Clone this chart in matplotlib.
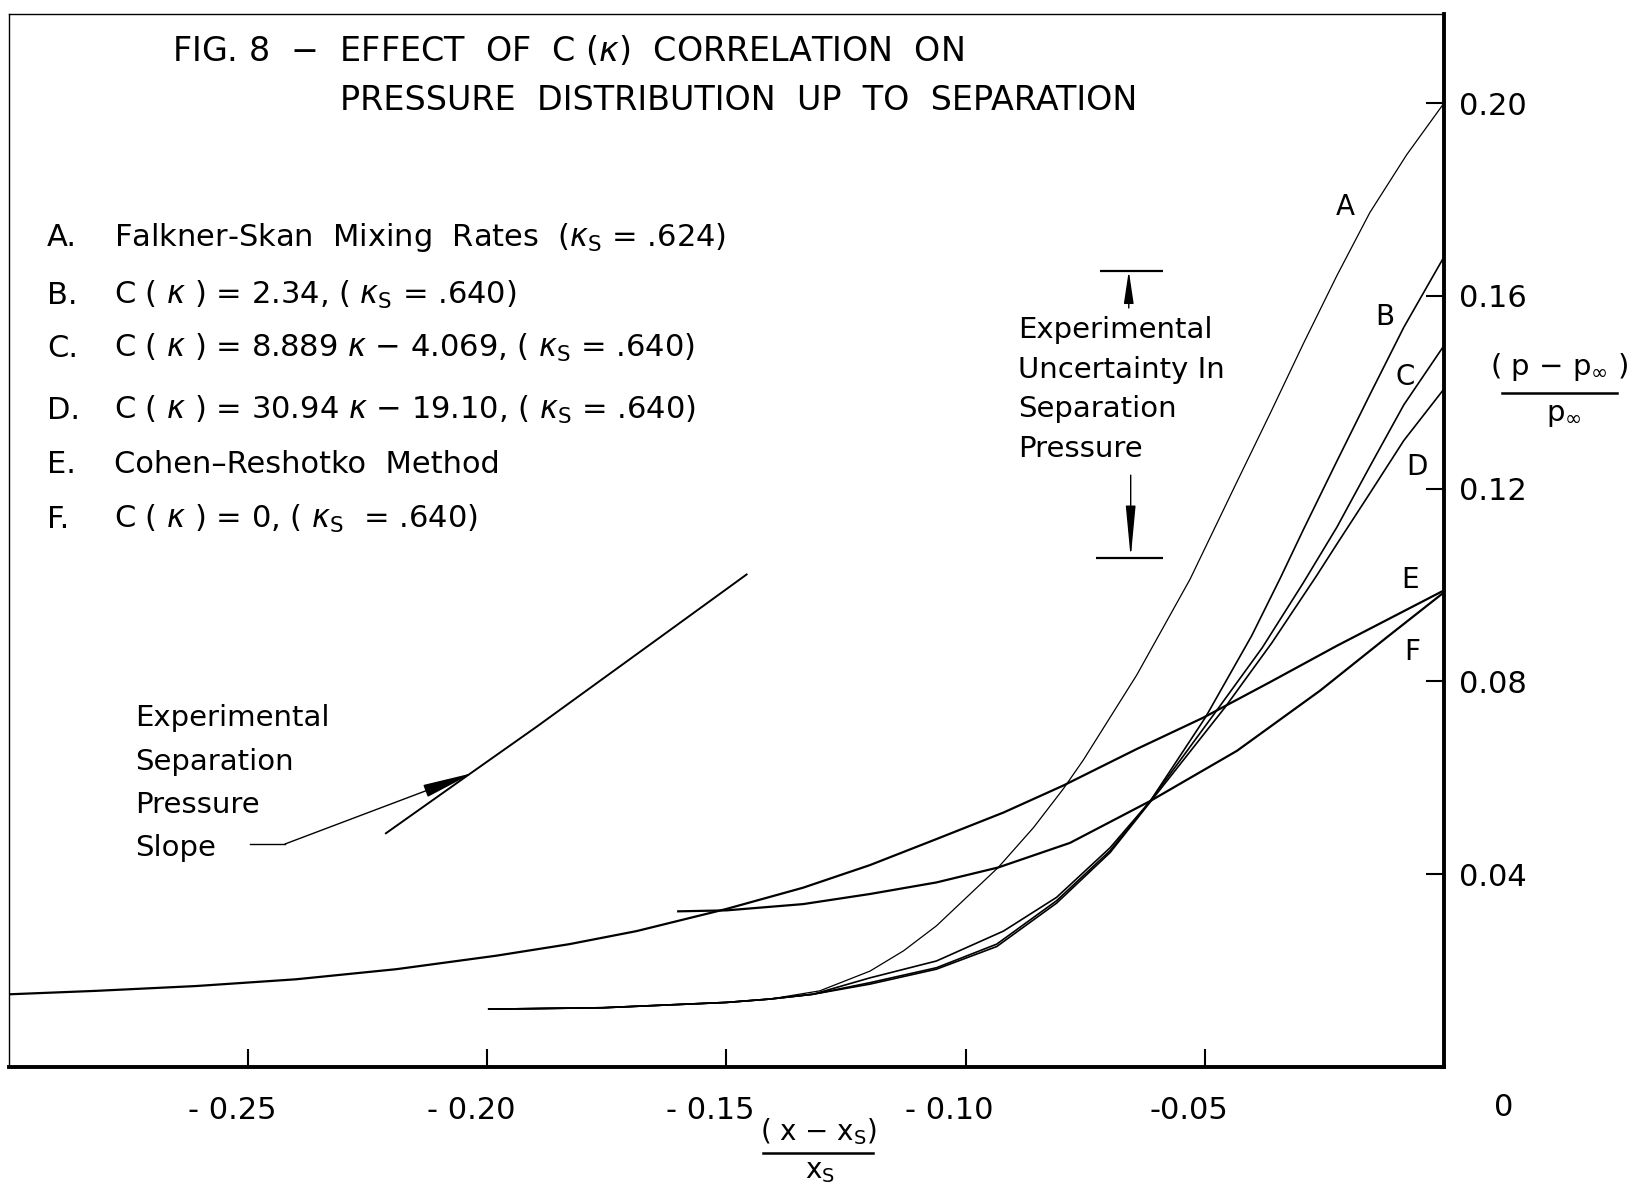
import matplotlib.pyplot as plt
import matplotlib.transforms as mtransforms
from matplotlib.lines import Line2D

# (x - xs)/xs and (p - p_inf)/p_inf
A_x = [-0.1997, -0.1758, -0.150, -0.1409, -0.1305, -0.120, -0.1130, -0.1061, -0.0932, -0.0858,
       -0.0796, -0.0754, -0.0642, -0.0531, -0.0433, -0.0363, -0.0294, -0.0224, -0.0155, -0.0078, 0.0]
A_y = [0.0120, 0.0123, 0.0134, 0.0141, 0.0158, 0.0199, 0.0241, 0.0293, 0.0414, 0.0497,
       0.0577, 0.0637, 0.0814, 0.1012, 0.1214, 0.1357, 0.1501, 0.1642, 0.1773, 0.1893, 0.2000]

B_x = [-0.1997, -0.1758, -0.150, -0.1409, -0.1319, -0.120, -0.1061, -0.0921, -0.081, -0.0698,
       -0.0614, -0.0499, -0.0402, -0.0342, -0.0294, -0.0224, -0.0154, -0.0084, 0.0]
B_y = [0.0120, 0.0123, 0.0134, 0.0141, 0.0151, 0.0185, 0.0220, 0.0282, 0.0352, 0.0455,
       0.0552, 0.0725, 0.0895, 0.1015, 0.1115, 0.1257, 0.1397, 0.1535, 0.1681]

C_x = [-0.1997, -0.1758, -0.150, -0.1409, -0.1319, -0.120, -0.1061, -0.0935, -0.081, -0.0698,
       -0.0614, -0.0478, -0.0380, -0.0294, -0.0224, -0.0154, -0.0084, 0.0]
C_y = [0.0120, 0.0123, 0.0134, 0.0141, 0.0151, 0.0175, 0.0206, 0.0255, 0.0345, 0.0449,
       0.0552, 0.0736, 0.0870, 0.1005, 0.1120, 0.1248, 0.1374, 0.1497]

D_x = [-0.1997, -0.1758, -0.150, -0.1409, -0.1319, -0.120, -0.1061, -0.0935, -0.081, -0.0698,
       -0.0614, -0.0458, -0.0360, -0.0266, -0.0224, -0.0154, -0.0084, 0.0]
D_y = [0.0120, 0.0123, 0.0134, 0.0141, 0.0151, 0.0172, 0.0203, 0.0250, 0.0340, 0.0445,
       0.0550, 0.0746, 0.0880, 0.1020, 0.1085, 0.1192, 0.1300, 0.1407]

E_x = [-0.2996, -0.2818, -0.2609, -0.240, -0.219, -0.1981, -0.1828, -0.1688, -0.150, -0.134,
       -0.120, -0.1061, -0.0921, -0.0796, -0.0642, -0.0503, -0.0363, -0.0224, 0.0]
E_y = [0.0151, 0.0158, 0.0168, 0.0182, 0.0203, 0.0231, 0.0255, 0.0282, 0.0328, 0.0372,
       0.0419, 0.0473, 0.0528, 0.0584, 0.0660, 0.0725, 0.0799, 0.0874, 0.0989]

F_x = [-0.1601, -0.150, -0.134, -0.120, -0.1061, -0.0932, -0.0782, -0.0614, -0.0433, -0.0259,
       -0.0119, 0.0]
F_y = [0.0323, 0.0325, 0.0338, 0.0359, 0.0383, 0.0414, 0.0465, 0.0552, 0.0656, 0.0781,
       0.0892, 0.0985]

# experimental separation pressure slope
slope_x = [-0.2212, -0.2037, -0.1897, -0.1758, -0.1619, -0.1458]
slope_y = [0.0485, 0.0608, 0.0706, 0.0806, 0.0906, 0.1022]

# experimental uncertainty in separation pressure
sep_hi = 0.1652
sep_lo = 0.1056

curve_letters = ['A', 'B', 'C', 'D', 'E', 'F']
legend_lines = [
    r'Falkner-Skan  Mixing  Rates  ($\kappa_\mathrm{S}$ = .624)',
    r'C ( $\kappa$ ) = 2.34, ( $\kappa_\mathrm{S}$ = .640)',
    r'C ( $\kappa$ ) = 8.889 $\kappa$ $-$ 4.069, ( $\kappa_\mathrm{S}$ = .640)',
    r'C ( $\kappa$ ) = 30.94 $\kappa$ $-$ 19.10, ( $\kappa_\mathrm{S}$ = .640)',
    'Cohen\u2013Reshotko  Method',
    r'C ( $\kappa$ ) = 0, ( $\kappa_\mathrm{S}$  = .640)',
]
xtick_vals = [-0.25, -0.20, -0.15, -0.10, -0.05]
xtick_text = ['- 0.25', '- 0.20', '- 0.15', '- 0.10', '-0.05']
ytick_vals = [0.04, 0.08, 0.12, 0.16, 0.20]
ytick_text = ['0.04', '0.08', '0.12', '0.16', '0.20']

W, H = 1632, 1186


def fx(px):
    return px / W


def fy(py):
    return 1 - py / H


fig = plt.figure(figsize=(W / 100, H / 100), dpi=100)
ax = fig.add_axes([fx(9), fy(1067), (1444 - 9) / W, (1067 - 14) / H])

ax.plot(E_x, E_y, color='black', linewidth=1.6)
ax.plot(F_x, F_y, color='black', linewidth=1.6)
ax.plot(D_x, D_y, color='black', linewidth=1.2)
ax.plot(C_x, C_y, color='black', linewidth=1.2)
ax.plot(B_x, B_y, color='black', linewidth=1.2)
ax.plot(A_x, A_y, color='black', linewidth=0.9)
ax.plot(slope_x, slope_y, color='black', linewidth=1.4)

ax.set_xlim(-0.3, 0)
ax.set_ylim(0, 0.2185)

for side in ['bottom', 'right']:
    ax.spines[side].set_linewidth(2.8)
for side in ['top', 'left']:
    ax.spines[side].set_linewidth(1.0)

ax.yaxis.tick_right()
ax.set_xticks(xtick_vals)
ax.set_xticklabels(xtick_text)
ax.set_yticks(ytick_vals)
ax.set_yticklabels(ytick_text)
ax.tick_params(axis='both', direction='in', length=13, width=1.5)
ax.tick_params(axis='x', labelsize=22, pad=21)
ax.tick_params(axis='y', labelsize=22, pad=11)
shift = mtransforms.ScaledTranslation(-0.16, 0, fig.dpi_scale_trans)
for lab in ax.get_xticklabels():
    lab.set_transform(lab.get_transform() + shift)
fig.text(fx(1504), fy(1108), '0', fontsize=22, ha='center', va='center')

# uncertainty bars with arrows
ax.hlines(sep_hi, -0.0719, -0.0588, color='black', linewidth=1.6)
ax.hlines(sep_lo, -0.0728, -0.0588, color='black', linewidth=1.6)
ax.annotate('', xy=(-0.0659, sep_hi), xytext=(-0.0659, 0.1575),
            arrowprops=dict(arrowstyle='-|>,head_length=1.0,head_width=0.15',
                            color='black', lw=1.0, shrinkA=0, shrinkB=0, mutation_scale=20))
ax.annotate('', xy=(-0.0655, sep_lo), xytext=(-0.0655, 0.1228),
            arrowprops=dict(arrowstyle='-|>,head_length=1.6,head_width=0.15',
                            color='black', lw=1.0, shrinkA=0, shrinkB=0, mutation_scale=20))
fig.text(fx(1018), fy(457), 'Experimental\nUncertainty In\nSeparation\nPressure',
         fontsize=21, ha='left', va='baseline', linespacing=1.53)

# slope annotation
fig.add_artist(Line2D([fx(250), fx(285)], [fy(844), fy(844)], color='black', linewidth=1.0))
ax.annotate('', xy=(fx(473), fy(773)), xycoords='figure fraction',
            xytext=(fx(285), fy(844)), textcoords='figure fraction',
            arrowprops=dict(arrowstyle='-|>,head_length=1.6,head_width=0.2',
                            color='black', lw=1.0, shrinkA=0, shrinkB=0, mutation_scale=20))
fig.text(fx(135), fy(856), 'Experimental\nSeparation\nPressure\nSlope',
         fontsize=21, ha='left', va='baseline', linespacing=1.69)

# curve letters
letter_pos = [(1345, 207), (1385, 317), (1405, 377), (1417, 467), (1410, 580), (1412, 652)]
for letter, (px, py) in zip(curve_letters, letter_pos):
    fig.text(fx(px), fy(py), letter, fontsize=20, ha='center', va='center')

# title and legend
fig.text(fx(172), fy(61), r'FIG. 8  $-$  EFFECT  OF  C ($\kappa$)  CORRELATION  ON',
         fontsize=24, ha='left', va='baseline')
fig.text(fx(340), fy(110), 'PRESSURE  DISTRIBUTION  UP  TO  SEPARATION',
         fontsize=24, ha='left', va='baseline')
legend_base = [246, 304, 357, 419, 473, 528]
for letter, line, py in zip(curve_letters, legend_lines, legend_base):
    fig.text(fx(47), fy(py), letter + '.', fontsize=22, ha='left', va='baseline')
    fig.text(fx(114), fy(py), line, fontsize=22, ha='left', va='baseline')

# axis labels written as fractions
fig.text(fx(1559), fy(367), r'( p $-$ p$_{\infty}$ )', fontsize=21, ha='center', va='center')
fig.add_artist(Line2D([fx(1502), fx(1617)], [fy(393), fy(393)], color='black', linewidth=1.8))
fig.text(fx(1564), fy(415), r'p$_{\infty}$', fontsize=21, ha='center', va='center')

fig.text(fx(819), fy(1132), r'( x $-$ x$_\mathrm{S}$)', fontsize=20, ha='center', va='center')
fig.add_artist(Line2D([fx(763), fx(873)], [fy(1153), fy(1153)], color='black', linewidth=1.8))
fig.text(fx(820), fy(1171), r'x$_\mathrm{S}$', fontsize=20, ha='center', va='center')

fig.savefig('out.png', dpi=100)
